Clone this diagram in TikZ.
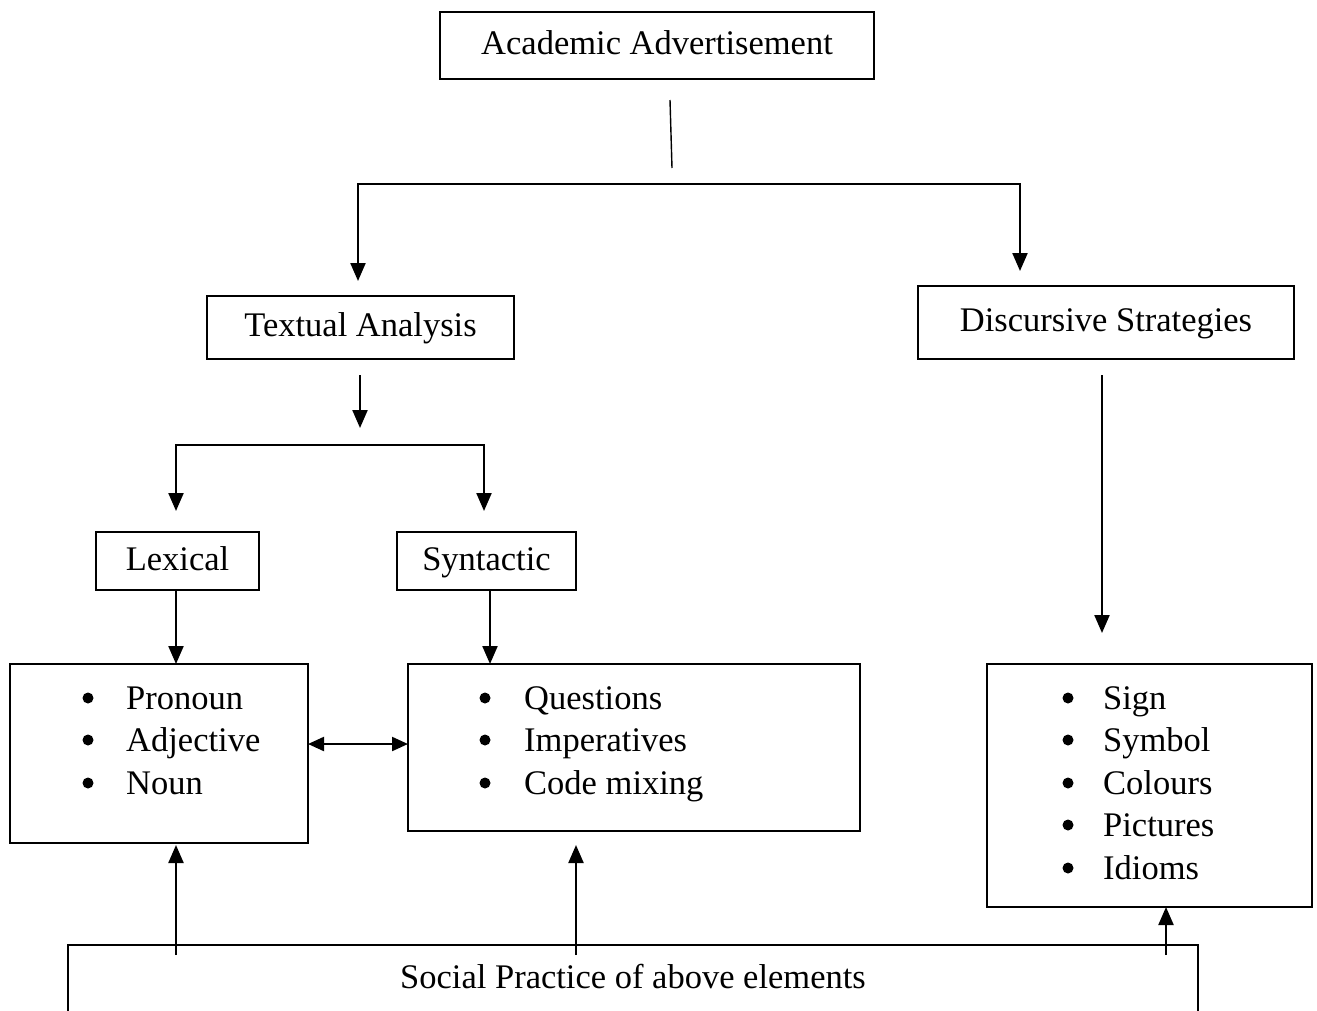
\documentclass[tikz,border=0pt]{standalone}
\usepackage{fontspec}
\setmainfont{Liberation Serif}
\usetikzlibrary{arrows.meta}
\begin{document}
\begin{tikzpicture}[x=1pt,y=-1pt,
  box/.style={draw, line width=2pt, inner sep=0pt, outer sep=0pt, anchor=north west, text height=24pt, text depth=6pt, font=\fontsize{34.5}{40}\selectfont},
  lbl/.style={inner sep=0pt, font=\fontsize{34.5}{40}\selectfont},
  item/.style={inner sep=0pt, anchor=base west, font=\fontsize{34.5}{40}\selectfont},
  bul/.style={circle, fill, inner sep=0pt, minimum size=11pt},
  arr/.style={line width=2.2pt, -{Triangle[length=18pt,width=15pt]}},
  darr/.style={line width=2.2pt, {Triangle[length=16pt,width=14pt]}-{Triangle[length=16pt,width=14pt]}},
  ln/.style={line width=2pt}]
\useasboundingbox (0,0) rectangle (1317,1010);

% boxes
\node[box, minimum width=434, minimum height=67] (aa) at (440,12) {Academic Advertisement};
\node[box, minimum width=307, minimum height=63] (ta) at (207,296) {Textual Analysis};
\node[box, minimum width=376, minimum height=73] (ds) at (918,286) {Discursive Strategies};
\node[box, minimum width=163, minimum height=58] (lex) at (96,532) {Lexical};
\node[box, minimum width=179, minimum height=58] (syn) at (397,532) {Syntactic};
\node[box, minimum width=298, minimum height=179] (ll) at (10,664) {};
\node[box, minimum width=452, minimum height=167] (ml) at (408,664) {};
\node[box, minimum width=325, minimum height=243] (rl) at (987,664) {};

% left list
\node[bul] (lb1) at (88,698) {};
\node[bul] (lb2) at (88,740) {};
\node[bul] (lb3) at (88,783) {};
\node[item] (lt1) at (126,709) {Pronoun};
\node[item] (lt2) at (126,751) {Adjective};
\node[item] (lt3) at (126,794) {Noun};

% middle list
\node[bul] (mb1) at (485,698) {};
\node[bul] (mb2) at (485,740) {};
\node[bul] (mb3) at (485,783) {};
\node[item] (mt1) at (524,709) {Questions};
\node[item] (mt2) at (524,751) {Imperatives};
\node[item] (mt3) at (524,794) {Code mixing};

% right list
\node[bul] (rb1) at (1068,698) {};
\node[bul] (rb2) at (1068,740) {};
\node[bul] (rb3) at (1068,783) {};
\node[bul] (rb4) at (1068,825) {};
\node[bul] (rb5) at (1068,868) {};
\node[item] (rt1) at (1103,709) {Sign};
\node[item] (rt2) at (1103,751) {Symbol};
\node[item] (rt3) at (1103,794) {Colours};
\node[item] (rt4) at (1103,836) {Pictures};
\node[item] (rt5) at (1103,879) {Idioms};

% social practice (open box at bottom)
\coordinate (sp1) at (68,1012);
\coordinate (sp2) at (68,945);
\coordinate (sp3) at (1198,945);
\coordinate (sp4) at (1198,1012);
\draw[ln] (sp1) -- (sp2) -- (sp3) -- (sp4);
\node[lbl, anchor=base] (sp) at (633,988) {Social Practice of above elements};

% top connectors
\coordinate (t1) at (670,100);
\coordinate (t2) at (672,168);
\draw[line width=1.4pt] (t1) -- (t2);
\coordinate (bl) at (358,184);
\coordinate (br) at (1020,184);
\coordinate (blt) at (358,281);
\coordinate (brt) at (1020,271);
\draw[arr] (bl) -- (br) -- (brt);
\draw[arr] (br) -- (bl) -- (blt);

% textual analysis branch
\coordinate (ta1) at (360,375);
\coordinate (ta2) at (360,428);
\draw[arr] (ta1) -- (ta2);
\coordinate (ll0) at (176,445);
\coordinate (rr0) at (484,445);
\coordinate (llt) at (176,511);
\coordinate (rrt) at (484,511);
\draw[arr] (rr0) -- (ll0) -- (llt);
\draw[arr] (ll0) -- (rr0) -- (rrt);

\draw[arr] (lex.south -| 176,0) -- (176,664);
\draw[arr] (syn.south -| 490,0) -- (490,664);

% double arrow
\draw[darr] (ll.east |- 0,744) -- (ml.west |- 0,744);

% discursive arrow
\coordinate (d1) at (1102,375);
\coordinate (d2) at (1102,633);
\draw[arr] (d1) -- (d2);

% up arrows
\coordinate (u1) at (176,955);
\coordinate (u2) at (576,955);
\coordinate (u3) at (1166,955);
\draw[arr] (u1) -- (176,845);
\draw[arr] (u2) -- (576,845);
\draw[arr] (u3) -- (rl.south -| 1166,0);
\end{tikzpicture}
\end{document}
